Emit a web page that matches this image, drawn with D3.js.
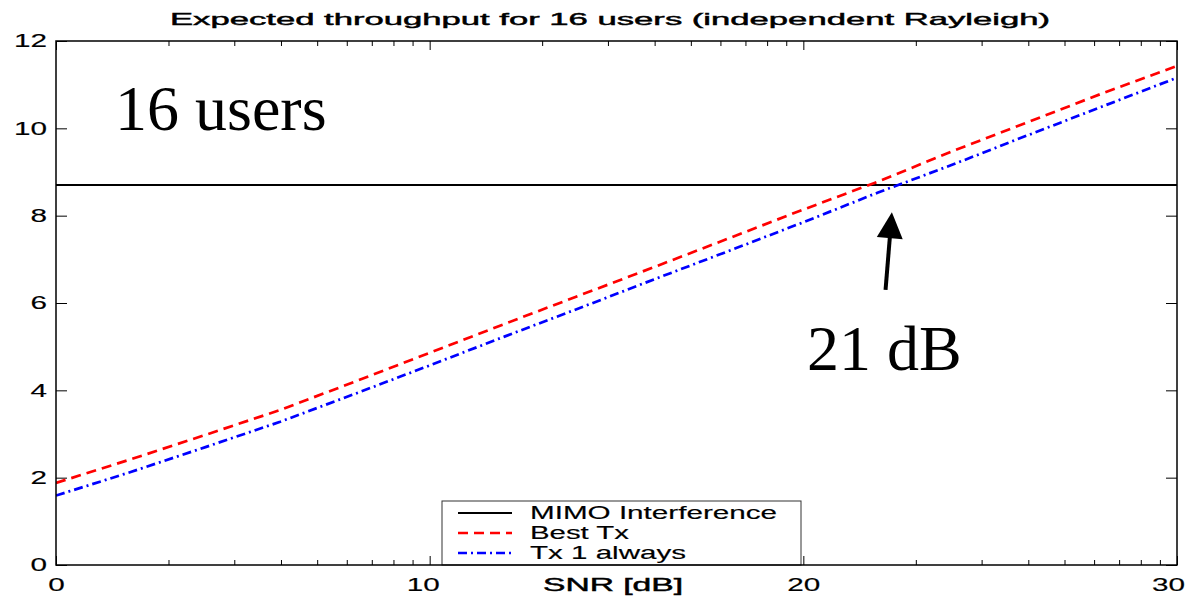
<!DOCTYPE html>
<html>
<head>
<meta charset="utf-8">
<script src="https://cdn.jsdelivr.net/npm/d3@7"></script>
<style>
  body { margin: 0; background: #fff; }
  svg { display: block; }
  .sans { font-family: "Liberation Sans", Arial, Helvetica, sans-serif; stroke: #000; stroke-width: 0.15px; }
  .heavy { stroke-width: 0.45px; }
  .serif { font-family: "Liberation Serif", "Times New Roman", serif; }
</style>
</head>
<body>
<svg id="chart" width="1192" height="600"></svg>
<script>
// SNR grid in dB
const snrDb = [0, 2, 4, 6, 8, 10, 12, 14, 16, 18, 20, 22, 24, 26, 28, 30];
// Expected throughput for each scheme
const mimoInterference = [8.7, 8.7, 8.7, 8.7, 8.7, 8.7, 8.7, 8.7, 8.7, 8.7, 8.7, 8.7, 8.7, 8.7, 8.7, 8.7];
const bestTx = [1.88, 2.42, 2.98, 3.55, 4.20, 4.86, 5.52, 6.17, 6.82, 7.48, 8.14, 8.78, 9.48, 10.14, 10.80, 11.43];
const tx1Always = [1.59, 2.13, 2.70, 3.28, 3.92, 4.57, 5.23, 5.88, 6.54, 7.19, 7.85, 8.53, 9.17, 9.84, 10.50, 11.16];

const seriesNames = ["MIMO Interference", "Best Tx", "Tx 1 always"];
const titleText = "Expected throughput for 16 users (independent Rayleigh)";
const xLabelText = "SNR [dB]";
const xMajorTicks = [0, 10, 20, 30];
const yTicks = [0, 2, 4, 6, 8, 10, 12];
// log-style minor ticks inside each decade of the x axis
const xMinorTicks = [0, 10, 20].flatMap(d => [2, 3, 4, 5, 6, 7, 8, 9].map(k => d + 10 * Math.log10(k)));

// annotations (data coordinates)
const usersLabel = { text: "16 users", snr: 1.58, value: 9.96 };
const crossLabel = { text: "21 dB", snr: 20.1, value: 4.47 };
const arrowTail = [22.2, 6.30];
const arrowTip = [22.37, 8.08];

const svg = d3.select("#chart");
const plot = { left: 56, right: 1177, top: 41, bottom: 565 };
const SX = 1.65; // horizontal stretch of the sans-serif lettering

const x = d3.scaleLinear().domain([0, 30]).range([plot.left, plot.right]);
const y = d3.scaleLinear().domain([0, 12]).range([plot.bottom, plot.top]);

svg.append("rect").attr("width", 1192).attr("height", 600).attr("fill", "#fff");

// title
svg.append("text").attr("class", "sans heavy")
  .attr("x", 610).attr("y", 25)
  .attr("text-anchor", "middle")
  .attr("font-size", 17)
  .attr("textLength", 880).attr("lengthAdjust", "spacingAndGlyphs")
  .attr("fill", "#000")
  .text(titleText);

// axes with inward ticks on all four sides
function styleAxis(g) {
  g.select(".domain").remove();
  g.selectAll(".tick line").attr("stroke", "#000").attr("stroke-width", 1);
}

svg.append("g").attr("transform", `translate(0,${plot.bottom})`)
  .call(d3.axisBottom(x).tickValues(xMinorTicks).tickSize(-5).tickFormat(""))
  .call(styleAxis);
svg.append("g").attr("transform", `translate(0,${plot.top})`)
  .call(d3.axisTop(x).tickValues(xMinorTicks).tickSize(-5).tickFormat(""))
  .call(styleAxis);
svg.append("g").attr("transform", `translate(0,${plot.top})`)
  .call(d3.axisTop(x).tickValues(xMajorTicks).tickSize(-9).tickFormat(""))
  .call(styleAxis);
svg.append("g").attr("transform", `translate(${plot.right},0)`)
  .call(d3.axisRight(y).tickValues(yTicks).tickSize(-11).tickFormat(""))
  .call(styleAxis);

const yAxis = svg.append("g").attr("transform", `translate(${plot.left},0)`)
  .call(d3.axisLeft(y).tickValues(yTicks).tickSize(-11).tickPadding(9).tickFormat(d3.format("d")))
  .call(styleAxis);
yAxis.selectAll(".tick text")
  .attr("class", "sans").attr("font-size", 18).attr("fill", "#000")
  .attr("font-family", null)
  .attr("x", -9 / SX)
  .attr("transform", `scale(${SX},1)`);

// data lines
svg.append("clipPath").attr("id", "plotClip")
  .append("rect").attr("x", plot.left).attr("y", plot.top)
  .attr("width", plot.right - plot.left).attr("height", plot.bottom - plot.top);

const series = [
  { name: seriesNames[0], values: mimoInterference, color: "#000", width: 2, dash: null },
  { name: seriesNames[1], values: bestTx, color: "#ff0000", width: 2.7, dash: "10,6" },
  { name: seriesNames[2], values: tx1Always, color: "#0000ff", width: 2.7, dash: "9,4,2,4" }
];

const line = d3.line().x(d => x(d[0])).y(d => y(d[1]));
const linesG = svg.append("g").attr("clip-path", "url(#plotClip)");
series.forEach(s => {
  linesG.append("path")
    .datum(snrDb.map((v, i) => [v, s.values[i]]))
    .attr("d", line)
    .attr("fill", "none")
    .attr("stroke", s.color)
    .attr("stroke-width", s.width)
    .attr("stroke-dasharray", s.dash);
});

// legend box over the bottom axis
const legend = svg.append("g");
legend.append("rect")
  .attr("x", 442).attr("y", 501).attr("width", 359).attr("height", plot.bottom - 501)
  .attr("fill", "#fff").attr("stroke", "#333").attr("stroke-width", 1);
const legendWidths = [247, 99, 156];
series.forEach((s, i) => {
  const ly = 513 + i * 20;
  legend.append("line")
    .attr("x1", 458).attr("x2", 512).attr("y1", ly).attr("y2", ly)
    .attr("stroke", s.color).attr("stroke-width", s.width === 2 ? 2 : 2.4)
    .attr("stroke-dasharray", s.dash);
  legend.append("text").attr("class", "sans")
    .attr("x", 530).attr("y", ly + 6)
    .attr("font-size", 18)
    .attr("textLength", legendWidths[i]).attr("lengthAdjust", "spacingAndGlyphs")
    .attr("fill", "#000")
    .text(s.name);
});

// bottom axis labels and major ticks (drawn after the legend)
const xAxis = svg.append("g").attr("transform", `translate(0,${plot.bottom})`)
  .call(d3.axisBottom(x).tickValues(xMajorTicks).tickSize(-9).tickPadding(13).tickFormat(d3.format("d")))
  .call(styleAxis);
xAxis.selectAll(".tick text")
  .attr("class", "sans").attr("font-size", 18).attr("fill", "#000")
  .attr("font-family", null)
  .attr("dx", d => (d === 30 ? -9 : d === 10 ? -7 : 0) / SX)
  .attr("transform", `scale(${SX},1)`);

// plot frame
svg.append("rect")
  .attr("x", plot.left).attr("y", plot.top)
  .attr("width", plot.right - plot.left).attr("height", plot.bottom - plot.top)
  .attr("fill", "none").attr("stroke", "#000").attr("stroke-width", 1.5);

// x label
svg.append("text").attr("class", "sans heavy")
  .attr("x", 613).attr("y", 591)
  .attr("text-anchor", "middle")
  .attr("font-size", 18)
  .attr("textLength", 140).attr("lengthAdjust", "spacingAndGlyphs")
  .attr("fill", "#000")
  .text(xLabelText);

// annotations
svg.append("text").attr("class", "serif")
  .attr("x", x(usersLabel.snr)).attr("y", y(usersLabel.value))
  .attr("font-size", 64).attr("fill", "#000")
  .text(usersLabel.text);
svg.append("text").attr("class", "serif")
  .attr("x", x(crossLabel.snr)).attr("y", y(crossLabel.value))
  .attr("font-size", 64).attr("fill", "#000")
  .text(crossLabel.text);

// arrow pointing at the crossing
const tx = x(arrowTail[0]), ty = y(arrowTail[1]);
const hx = x(arrowTip[0]), hy = y(arrowTip[1]);
const len = Math.hypot(hx - tx, hy - ty);
const ux = (hx - tx) / len, uy = (hy - ty) / len;
const headLen = 26, headHalf = 13;
const bx = hx - ux * headLen, by = hy - uy * headLen;
svg.append("line")
  .attr("x1", tx).attr("y1", ty).attr("x2", bx + ux * 2).attr("y2", by + uy * 2)
  .attr("stroke", "#000").attr("stroke-width", 4);
svg.append("polygon")
  .attr("points", [
    [hx, hy],
    [bx - uy * headHalf, by + ux * headHalf],
    [bx + uy * headHalf, by - ux * headHalf]
  ].map(p => p.join(",")).join(" "))
  .attr("fill", "#000");
</script>
</body>
</html>
